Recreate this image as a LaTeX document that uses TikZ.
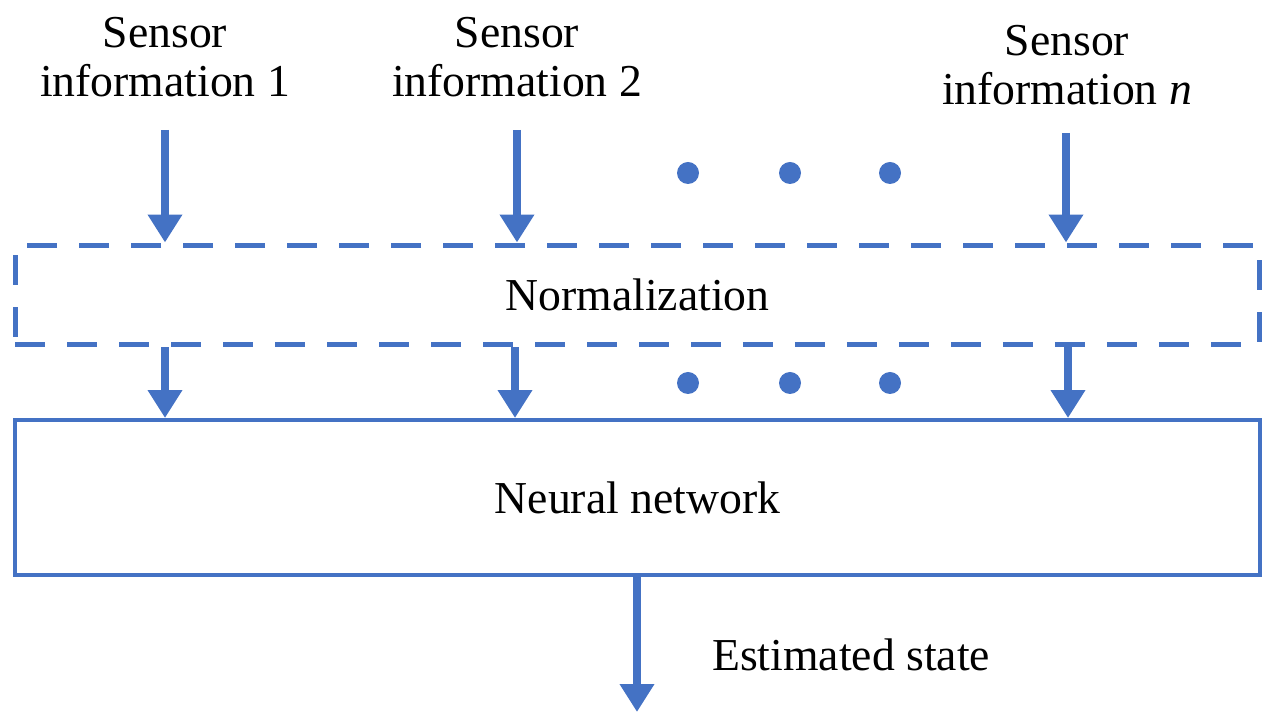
\documentclass[tikz,border=0pt]{standalone}
\usepackage{fontspec}
\setmainfont{Liberation Serif}
\usetikzlibrary{arrows.meta,positioning}
\definecolor{flowblue}{RGB}{68,114,196}
\begin{document}
\begin{tikzpicture}[
    x=0.02cm, y=0.02cm,
    every node/.style = {font=\fontsize{26}{28}\selectfont, align=center},
    arr/.style = {draw=flowblue, line width=0.16cm, -{Triangle[width=0.66cm,length=0.56cm]}},
    dashbox/.style = {draw=flowblue, line width=0.1cm, dash pattern=on 0.6cm off 0.44cm, minimum width=24.9cm, minimum height=2cm, inner sep=0pt},
    solidbox/.style = {draw=flowblue, line width=0.08cm, minimum width=24.9cm, minimum height=3.1cm, inner sep=0pt},
    dot/.style = {fill=flowblue, circle, minimum size=0.44cm, inner sep=0pt}
    ]
    \useasboundingbox (0,0) rectangle (1269,713);
    % sensor inputs
    \node (s1) at (165,656) {Sensor\\information 1};
    \node (s2) at (517,656) {Sensor\\information 2};
    \node (sn) at (1067,648) {Sensor\\information \textit{n}};
    % blocks
    \node[dashbox] (norm) at (637.5,418) {Normalization};
    \node[solidbox] (nn) at (637.5,215.5) {Neural network};
    \node[anchor=west] (out) at (706,58) {Estimated state};
    % arrows into normalization
    \coordinate (a1) at (165,583);
    \coordinate (a2) at (517,583);
    \coordinate (an) at (1066,580);
    \foreach \c in {a1,a2,an}
        \draw[arr] (\c) -- (\c |- norm.north);
    % arrows into the network
    \coordinate (b1) at (165,0);
    \coordinate (b2) at (515,0);
    \coordinate (bn) at (1068,0);
    \foreach \c in {b1,b2,bn}
        \draw[arr] (\c |- norm.south) -- (\c |- nn.north);
    % output
    \coordinate (e) at (637,1);
    \draw[arr] (nn.south -| e) -- (e);
    % dots
    \foreach \x [count=\i] in {688,790,890} {
        \node[dot] (u\i) at (\x,540) {};
        \node[dot] (l\i) at (\x,330) {};
    }
\end{tikzpicture}
\end{document}
